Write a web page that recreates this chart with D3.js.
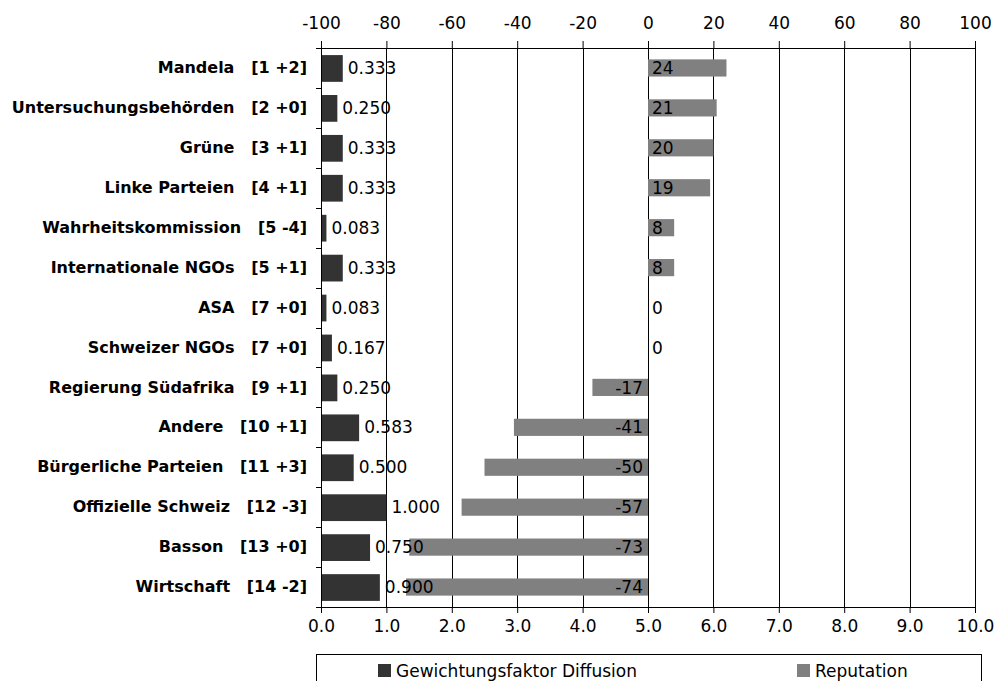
<!DOCTYPE html>
<html><head><meta charset="utf-8">
<script src="https://cdn.jsdelivr.net/npm/d3@7/dist/d3.min.js"></script>
<style>
body{margin:0;background:#fff;}
text{font-family:"DejaVu Sans",Verdana,sans-serif;}
</style></head>
<body><svg id="chart" width="995" height="681"></svg>
<script>
const categories = ["Mandela   [1 +2]","Untersuchungsbehörden   [2 +0]","Grüne   [3 +1]","Linke Parteien   [4 +1]","Wahrheitskommission   [5 -4]","Internationale NGOs   [5 +1]","ASA   [7 +0]","Schweizer NGOs   [7 +0]","Regierung Südafrika   [9 +1]","Andere   [10 +1]","Bürgerliche Parteien   [11 +3]","Offizielle Schweiz   [12 -3]","Basson   [13 +0]","Wirtschaft   [14 -2]"];
const diffusion = [0.333,0.250,0.333,0.333,0.083,0.333,0.083,0.167,0.250,0.583,0.500,1.000,0.750,0.900];
const reputation = [24,21,20,19,8,8,0,0,-17,-41,-50,-57,-73,-74];
const topTicks = [-100,-80,-60,-40,-20,0,20,40,60,80,100];
const bottomTicks = [0,1,2,3,4,5,6,7,8,9,10];
const seriesNames = ["Gewichtungsfaktor Diffusion","Reputation"];
const colors = ["#333333","#808080"];

const svg = d3.select("#chart");
const pL = 321, pR = 975, pT = 48, pB = 607;
const xB = d3.scaleLinear().domain([0,10]).range([pL,pR]);
const xT = d3.scaleLinear().domain([-100,100]).range([pL,pR]);
const y = d3.scaleBand().domain(categories).range([pT,pB]);

// gridlines
svg.append("g").selectAll("line").data(bottomTicks.slice(1)).join("line")
  .attr("x1",d=>Math.round(xB(d))+0.5).attr("x2",d=>Math.round(xB(d))+0.5)
  .attr("y1",pT).attr("y2",pB).attr("stroke","#000").attr("stroke-width",1);

// diffusion bars
const dh = y.bandwidth()*0.67;
svg.append("g").selectAll("rect").data(categories).join("rect")
  .attr("x",xB(0)).attr("y",(d,i)=>y(d)+y.bandwidth()/2-dh/2+0.5)
  .attr("width",(d,i)=>xB(diffusion[i])-xB(0)).attr("height",dh)
  .attr("fill",colors[0]);
// reputation bars
const rh = y.bandwidth()*0.43;
svg.append("g").selectAll("rect").data(categories).join("rect")
  .attr("x",(d,i)=>Math.min(xT(0),xT(reputation[i])))
  .attr("y",(d,i)=>y(d)+y.bandwidth()/2-rh/2)
  .attr("width",(d,i)=>Math.abs(xT(reputation[i])-xT(0))).attr("height",rh)
  .attr("fill",colors[1]);

// labels diffusion
svg.append("g").selectAll("text").data(categories).join("text")
  .attr("x",(d,i)=>xB(diffusion[i])+5).attr("y",(d,i)=>y(d)+y.bandwidth()/2)
  .attr("dy","0.36em").attr("font-size",17).attr("fill","#000")
  .text((d,i)=>d3.format(".3f")(diffusion[i]));
// labels reputation
svg.append("g").selectAll("text").data(categories).join("text")
  .attr("x",(d,i)=>reputation[i]<0 ? xT(0)-5 : xT(0)+4)
  .attr("text-anchor",(d,i)=>reputation[i]<0?"end":"start")
  .attr("y",(d,i)=>y(d)+y.bandwidth()/2)
  .attr("dy","0.36em").attr("font-size",17).attr("fill","#000")
  .text((d,i)=>String(reputation[i]));

// top axis
const gt = svg.append("g").attr("transform",`translate(0,${pT})`)
  .call(d3.axisTop(xT).tickValues(topTicks).tickFormat(d=>String(d)).tickSize(7).tickPadding(12).tickSizeOuter(0));
gt.select(".domain").attr("d",`M${pL-5},0.5H${pR}`).attr("stroke","#000");
gt.selectAll("text").attr("font-size",17).attr("font-family","DejaVu Sans").attr("fill","#000");
// bottom axis
const gb = svg.append("g").attr("transform",`translate(0,${pB})`)
  .call(d3.axisBottom(xB).tickValues(bottomTicks).tickFormat(d3.format(".1f")).tickSize(6).tickPadding(7).tickSizeOuter(0));
gb.select(".domain").attr("d",`M${pL-5},0.5H${pR}`).attr("stroke","#000");
gb.selectAll("text").attr("font-size",17).attr("font-family","DejaVu Sans").attr("fill","#000");
// left axis
const gl = svg.append("g").attr("transform",`translate(${pL},0)`)
  .call(d3.axisLeft(y).tickSize(0).tickPadding(14));
gl.select(".domain").attr("d",`M0.5,${pT}V${pB}`).attr("stroke","#000");
gl.selectAll("text").attr("font-size",16).attr("font-weight","bold")
  .attr("font-family","DejaVu Sans").attr("fill","#000").style("white-space","pre");
// left boundary ticks
svg.append("g").selectAll("line").data(d3.range(categories.length+1)).join("line")
  .attr("x1",pL-5).attr("x2",pL)
  .attr("y1",i=>Math.round(pT+i*y.step())+0.5).attr("y2",i=>Math.round(pT+i*y.step())+0.5)
  .attr("stroke","#000");

// legend
const lg = svg.append("g");
lg.append("rect").attr("x",316.5).attr("y",654.5).attr("width",665).attr("height",40)
  .attr("fill","#fff").attr("stroke","#000");
const legX = [378, 797];
seriesNames.forEach((s,i)=>{
  lg.append("rect").attr("x",legX[i]).attr("y",664).attr("width",13).attr("height",13).attr("fill",colors[i]);
  lg.append("text").attr("x",legX[i]+18).attr("y",677).attr("font-size",17).attr("fill","#000").text(s);
});
</script></body></html>
